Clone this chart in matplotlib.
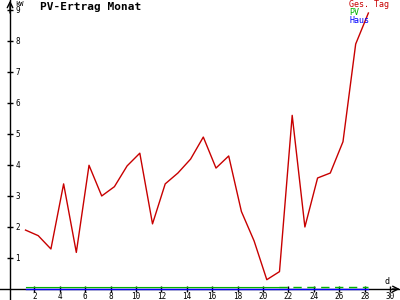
import matplotlib
matplotlib.use("Agg")
import matplotlib.pyplot as plt
import matplotlib.transforms as mtransforms

# Tageswerte (kWh/Tag) fuer den Monat
days = list(range(1, 29))
ges_tag = [1.9, 1.72, 1.29, 3.39, 1.18, 3.99, 3.0, 3.3, 3.97, 4.38,
           2.1, 3.39, 3.74, 4.19, 4.9, 3.9, 4.29, 2.5, 1.55, 0.3,
           0.56, 5.6, 2.0, 3.58, 3.74, 4.75, 7.9, 8.9]
pv = [0.0] * 28
haus = [0.0] * 28
pv_solid_until = 21  # danach gestrichelt

x_ticks = list(range(2, 31, 2))
y_ticks = list(range(1, 10))

RED = "#c80000"
GREEN = "#00b400"
BLUE = "#0000ff"
MONO = "DejaVu Sans Mono"

fig = plt.figure(figsize=(4, 3), dpi=100)
ax = fig.add_axes([0, 0, 1, 1])
ax.set_xlim(-0.71, 30.79)
ax.set_ylim(-0.355, 9.32)

xs = [d + 0.3 for d in days]

# Haus (blau) und PV (gruen, 1 px darueber)
ax.plot(xs, haus, color=BLUE, lw=1.0, zorder=3)
up = mtransforms.offset_copy(ax.transData, fig=fig, y=1.6, units="dots")
n = pv_solid_until
ax.plot(xs[:n], pv[:n], color=GREEN, lw=0.8, transform=up, zorder=4)
ax.plot(xs[n - 1:], pv[n - 1:], color=GREEN, lw=1.0, transform=up,
        dashes=(6, 4), zorder=4)

# Gesamt Tag
ax.plot(xs, ges_tag, color=RED, lw=1.0, zorder=5)

# Achsen
for s in ("top", "right"):
    ax.spines[s].set_visible(False)
ax.spines["left"].set_position(("data", 0.08))
ax.spines["bottom"].set_position(("data", 0))
ax.spines["left"].set_linewidth(1.0)
ax.spines["bottom"].set_linewidth(1.0)
ax.spines["bottom"].set_zorder(2)

ax.set_xticks(x_ticks)
ax.set_yticks(y_ticks)
ax.set_xticklabels([str(t) for t in x_ticks], fontsize=5.5, family=MONO)
ax.set_yticklabels([str(t) for t in y_ticks], fontsize=5.5, family=MONO)
ax.tick_params(axis="x", direction="inout", length=5, width=1, pad=0)
ax.tick_params(axis="y", direction="inout", length=5, width=1, pad=-6.5)
for lab in ax.get_yticklabels():
    lab.set_horizontalalignment("left")

# Pfeile an den Achsenenden
ax.annotate("", xy=(0.08, 9.3), xytext=(0.08, 8.9), annotation_clip=False,
            arrowprops=dict(arrowstyle="->", lw=1.0, color="black",
                            shrinkA=0, shrinkB=0))
ax.annotate("", xy=(30.77, 0), xytext=(30.2, 0), annotation_clip=False,
            arrowprops=dict(arrowstyle="->", lw=1.0, color="black",
                            shrinkA=0, shrinkB=0))

# Beschriftungen
fig.text(15 / 400, 1 - 4 / 300, "kW", fontsize=5, family=MONO,
         ha="left", va="center")
fig.text(387 / 400, 1 - 282 / 300, "d", fontsize=6, family=MONO,
         ha="center", va="center")
fig.text(40 / 400, 1 - 7.5 / 300, "PV-Ertrag Monat", fontsize=8,
         family=MONO, weight="bold", ha="left", va="center")

legend_items = [("Ges. Tag", RED), ("PV", GREEN), ("Haus", BLUE)]
for i, (txt, col) in enumerate(legend_items):
    fig.text(349 / 400, 1 - (4.5 + 7.8 * i) / 300, txt, fontsize=6,
             family=MONO, color=col, ha="left", va="center")

fig.savefig("out.png", dpi=100, facecolor="white")
